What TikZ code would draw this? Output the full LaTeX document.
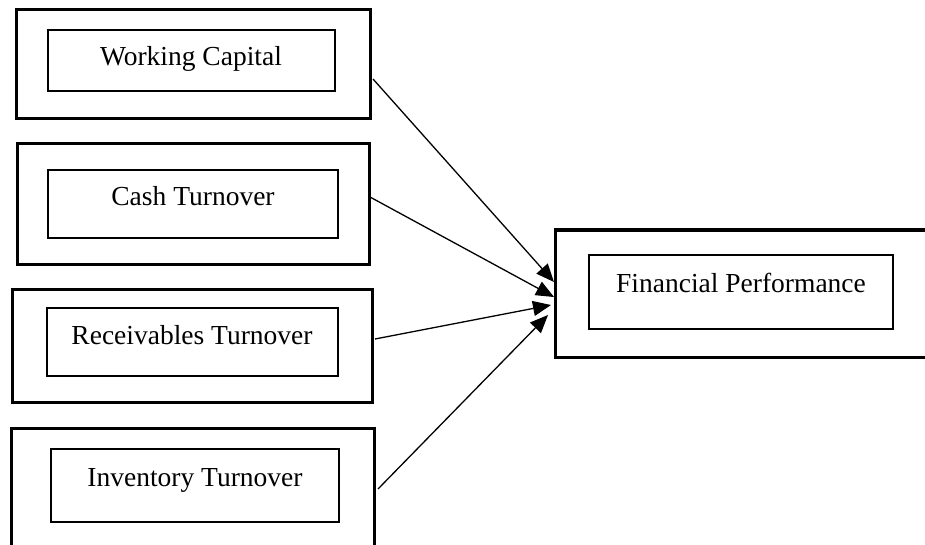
\documentclass[tikz,border=0pt]{standalone}
\usepackage{fontspec}
\setmainfont{Liberation Serif}
\usetikzlibrary{calc,arrows.meta}
\begin{document}
\begin{tikzpicture}[x=1pt,y=-1pt,
  outerbox/.style={draw=black,line width=3pt,minimum width=#1,inner sep=0pt,outer sep=0pt},
  innerbox/.style={draw=black,line width=1.4pt,inner sep=0pt,outer sep=0pt},
  lbl/.style={anchor=base,inner sep=0pt,font=\fontsize{27.5}{30}\selectfont},
  conn/.style={line width=1.3pt,-{Triangle[length=18pt,width=15pt]}}]
\useasboundingbox (0,0) rectangle (925,545);
\clip (0,0) rectangle (925,545);
\fill[white] (0,0) rectangle (925,545);
% outer boxes
\node[outerbox=354pt,minimum height=109pt] (o1) at (193,64.5) {};
\node[outerbox=352pt,minimum height=120pt] (o2) at (193,204) {};
\node[outerbox=360pt,minimum height=113pt] (o3) at (192,345.5) {};
\node[outerbox=363pt,minimum height=137pt] (o4) at (192.5,496.5) {};
\node[outerbox=390pt,minimum height=127pt] (o5) at (750,293.5) {};
% inner boxes
\node[innerbox,minimum width=287pt,minimum height=61pt] (i1) at (191.5,60.5) {};
\node[innerbox,minimum width=290pt,minimum height=68pt] (i2) at (193,204) {};
\node[innerbox,minimum width=291pt,minimum height=68pt] (i3) at (192.5,342) {};
\node[innerbox,minimum width=288pt,minimum height=73pt] (i4) at (195,485.5) {};
\node[innerbox,minimum width=304pt,minimum height=74pt] (i5) at (741,292) {};
% labels
\node[lbl] (t1) at (191,66) {Working Capital};
\node[lbl] (t2) at (193,206) {Cash Turnover};
\node[lbl] (t3) at (192,344) {Receivables Turnover};
\node[lbl] (t4) at (195,486) {Inventory Turnover};
\node[lbl] (t5) at (741,292) {Financial Performance};
% connectors
\draw[conn] ($(o1.east)+(3,14.5)$) -- ($(o5.west)+(-1,-11.5)$);
\draw[conn] ($(o2.east)+(1,-7)$) -- ($(o5.west)+(-1,3.5)$);
\draw[conn] ($(o3.east)+(3,-6.5)$) -- ($(o5.west)+(-4,11.5)$);
\draw[conn] ($(o4.east)+(4,-7.5)$) -- ($(o5.west)+(-7,21.5)$);
\end{tikzpicture}
\end{document}
